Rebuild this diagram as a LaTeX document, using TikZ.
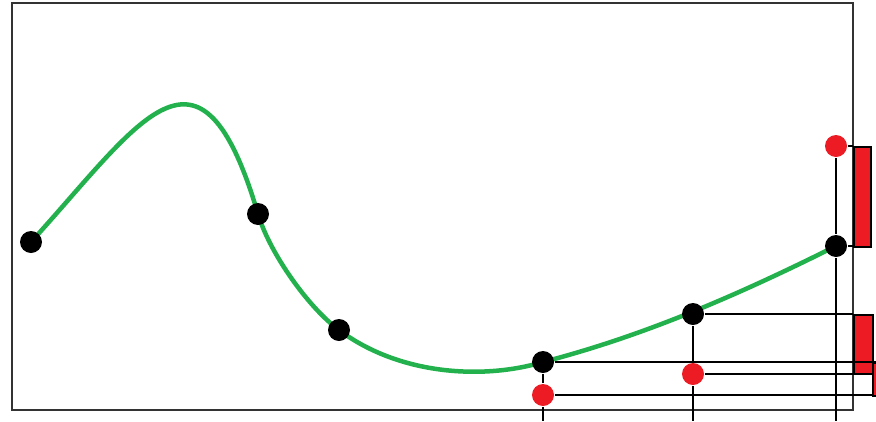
\documentclass[tikz,border=0pt]{standalone}
\definecolor{paintred}{HTML}{ED1C24}
\definecolor{paintgreen}{HTML}{22B14C}
\tikzset{
  dot/.style={circle,fill=black,inner sep=0pt,minimum size=22pt},
  reddot/.style={dot,fill=paintred},
  bar/.style={draw=black,fill=paintred,inner sep=0pt,anchor=north west}
}
\begin{document}
\begin{tikzpicture}[x=1pt,y=-1pt,line width=2pt]
  \useasboundingbox (0,0) rectangle (876,421);
  \draw[black!80] (12,3) rectangle (853,410);
  \coordinate (bot) at (0,421);
  \coordinate (edge) at (876,0);
  \draw[paintgreen,line width=4.5pt] (31,242) .. controls (141,121) and (200,18) .. (258,214)
    .. controls (270,254) and (309,308) .. (339,330)
    .. controls (399,375) and (483,380) .. (543,362)
    .. controls (643,336) and (736,296) .. (836,246);
  \node[bar,minimum width=17pt,minimum height=100pt] (b1) at (853,146) {};
  \node[bar,minimum width=19pt,minimum height=59pt] (b2) at (853,314) {};
  \node[bar,minimum width=12pt,minimum height=33pt] (b3) at (872,362) {};
  \node[dot] (p1) at (31,242) {};
  \node[dot] (p2) at (258,214) {};
  \node[dot] (p3) at (339,330) {};
  \node[dot] (p4) at (543,362) {};
  \node[dot] (p5) at (693,314) {};
  \node[dot] (p6) at (836,246) {};
  \node[reddot] (r4) at (543,395) {};
  \node[reddot] (r5) at (693,374) {};
  \node[reddot] (r6) at (836,146) {};
  \draw (p4) -- (r4) -- (r4 |- bot);
  \draw (p5) -- (r5) -- (r5 |- bot);
  \draw (r6) -- (p6) -- (p6 |- bot);
  \draw (r6) -- (r6 -| b1.west);
  \draw (p6) -- (p6 -| b1.west);
  \draw (p5) -- (p5 -| b2.west);
  \draw (p4) -- (p4 -| edge);
  \draw (r5) -- (r5 -| b3.west);
  \draw (r4) -- (r4 -| b3.west);
\end{tikzpicture}
\end{document}
